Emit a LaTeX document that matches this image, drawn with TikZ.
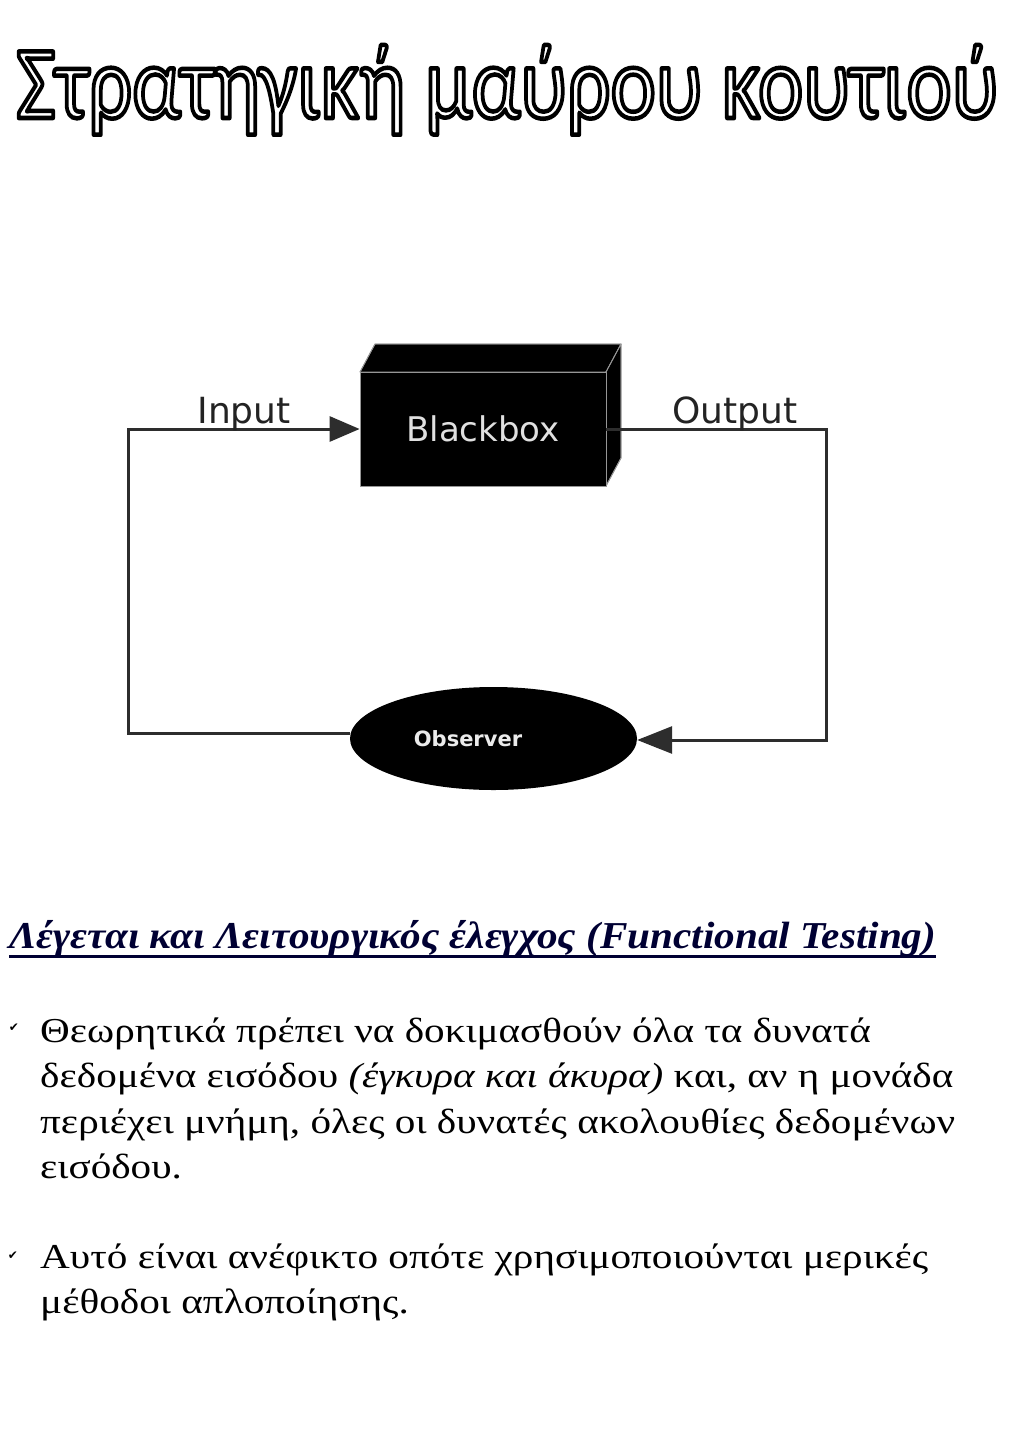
\documentclass[tikz,border=0pt]{standalone}
\usepackage{fontspec}
\setmainfont{Liberation Serif}
\newfontfamily\titlefont{Carlito}
\newfontfamily\diagfont{DejaVu Sans}
\newfontfamily\symfont{DejaVu Sans}
\usepackage{graphicx}
\usetikzlibrary{arrows.meta,shapes.geometric}

\definecolor{navy}{RGB}{0,0,51}
\definecolor{wire}{RGB}{45,45,45}
\definecolor{labelgray}{RGB}{35,35,35}
\definecolor{edgegray}{RGB}{150,150,150}

% hollow letters: white fill with a black stroke (text render mode 2)
\newcommand\hollowtext[1]{{\color{white}\special{pdf:literal direct 2 Tr 2.6 w 0 G 1 j}#1\special{pdf:literal direct 0 Tr}}}

\tikzset{
  wireline/.style={draw=wire, line width=3pt},
  boxface/.style={fill=black, draw=edgegray, line width=0.8pt, line join=round},
  flowlabel/.style={font=\diagfont\fontsize{36}{40}\selectfont, text=labelgray, inner sep=0pt, anchor=base},
  tick/.style={font=\symfont\fontsize{12}{12}\selectfont, inner sep=0pt},
}

\begin{document}
\begin{tikzpicture}[x=1pt, y=-1pt]
\useasboundingbox[fill=white] (0,0) rectangle (1024,1448);

% heading in outlined letters
\node[inner sep=0pt, anchor=base west] (title) at (16,118)
  {\resizebox{982pt}{73pt}{\titlefont\fontsize{60}{70}\selectfont\hollowtext{Στρατηγική μαύρου κουτιού}}};

% the black box drawn as a cube: top and side faces behind the front face
\fill[boxface] (360,372) -- (375,344) -- (621,344) -- (606,372) -- cycle;
\fill[boxface] (606,372) -- (621,344) -- (621,458) -- (606,486) -- cycle;
\draw[edgegray, line width=0.8pt] (360,372) -- (375,344) -- (621,344) -- (621,458) -- (606,486);
\draw[edgegray, line width=0.8pt] (606,372) -- (621,344);
\node[rectangle, fill=black, draw=edgegray, line width=0.8pt, minimum width=246pt, minimum height=114pt, inner sep=0pt,
      text=white!88!black, font=\diagfont\fontsize{34}{40}\selectfont] (bb) at (483,429) {\raisebox{-5pt}{Blackbox}};

% observer
\node[ellipse, fill=black, minimum width=287pt, minimum height=103pt, inner sep=0pt] (obs) at (493.5,738.5) {};
\node[inner sep=0pt, text=white!92!black, font=\diagfont\bfseries\fontsize{21}{24}\selectfont] (obslbl) at (468,739) {Observer};

% loop corners
\coordinate (ctl) at (128,429);
\coordinate (cbl) at (128,733);
\coordinate (ctr) at (826,429);
\coordinate (cbr) at (826,740);

% feedback loop
\draw[wireline, -{Triangle[length=30pt, width=25pt]}] (obs.west |- cbl) -- (cbl) -- (ctl) -- (bb.west);
\draw[wireline, -{Triangle[length=35pt, width=27pt]}] (bb.east) -- (ctr) -- (cbr) -- (obs.east |- cbr);

\node[flowlabel] (inlbl) at (244,423) {Input};
\node[flowlabel] (outlbl) at (735,423) {Output};

% underlined subheading
\node[inner sep=0pt, anchor=base west, text=navy] (sub) at (9,948)
  {\resizebox{927pt}{\height}{\fontsize{38}{46}\selectfont\bfseries\itshape Λέγεται και Λειτουργικός έλεγχος (Functional Testing)}};
\draw[navy, line width=3pt] ([yshift=-8pt]sub.base west) -- ([yshift=-8pt]sub.base east);

% bullet points
\node[tick] (t1) at (14,1028) {✔};
\node[inner sep=0pt, anchor=base west] (b1) at (40,1042)
  {\resizebox{915pt}{\height}{\fontsize{35}{45.5}\selectfont\begin{tabular}[t]{@{}l@{}}
    Θεωρητικά πρέπει να δοκιμασθούν όλα τα δυνατά\\
    δεδομένα εισόδου \textit{(έγκυρα και άκυρα)} και, αν η μονάδα\\
    περιέχει μνήμη, όλες οι δυνατές ακολουθίες δεδομένων\\
    εισόδου.
  \end{tabular}}};

\node[tick] (t2) at (13,1256) {✔};
\node[inner sep=0pt, anchor=base west] (b2) at (40,1268)
  {\resizebox{888pt}{\height}{\fontsize{35}{45.5}\selectfont\begin{tabular}[t]{@{}l@{}}
    Αυτό είναι ανέφικτο οπότε χρησιμοποιούνται μερικές\\
    μέθοδοι απλοποίησης.
  \end{tabular}}};
\end{tikzpicture}
\end{document}
